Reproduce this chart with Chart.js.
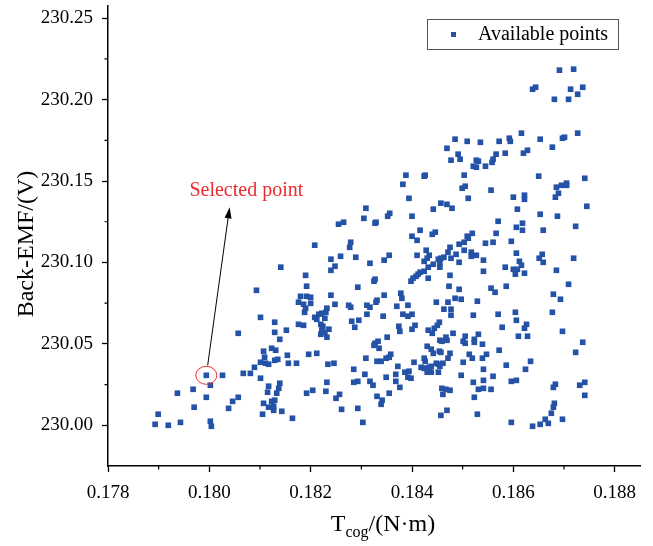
<!DOCTYPE html>
<html>
<head>
<meta charset="utf-8">
<title>Back-EMF vs cogging torque</title>
<script src="https://cdn.jsdelivr.net/npm/chart.js@4.4.1/dist/chart.umd.min.js"></script>
<style>
  html, body { margin: 0; padding: 0; background: #fff; }
</style>
</head>
<body>
<canvas id="chart" width="653" height="546"></canvas>
<script>
// Cogging torque T_cog (N·m) of each available design point
const torque = [
    // upper middle
    0.18485, 0.18469, 0.18491, 0.18477, 0.18495, 0.18388, 0.18426, 0.18424, 0.18382, 0.18394,
    // upper right
    0.18691, 0.18719, 0.18638, 0.18644, 0.18713, 0.18737, 0.18727, 0.18681, 0.18709, 0.18616,
    0.18727, 0.18509, 0.18535, 0.18572, 0.18592, 0.18594, 0.18653, 0.18697, 0.18701, 0.18677,
    0.18628, 0.18620, 0.18566, 0.18584, 0.18527, 0.18531, 0.18560, 0.18558, 0.18521, 0.18527,
    0.18545, 0.18503, 0.18650, 0.18741, 0.18505, 0.18499, 0.18556, 0.18695, 0.18705, 0.18705,
    0.18685, 0.18689, 0.18600, 0.18622, 0.18622, 0.18511, 0.18683,
    // centre band
    0.18309, 0.18305, 0.18255, 0.18265, 0.18327, 0.18329, 0.18352, 0.18356, 0.18400, 0.18442,
    0.18457, 0.18469, 0.18479, 0.18416, 0.18440, 0.18446, 0.18400, 0.18410, 0.18279, 0.18277,
    0.18259, 0.18240, 0.18248, 0.18240, 0.18289, 0.18317, 0.18345, 0.18355, 0.18410, 0.18428,
    0.18434, 0.18430, 0.18424, 0.18442, 0.18432, 0.18424, 0.18416, 0.18412, 0.18408, 0.18402,
    0.18398, 0.18432, 0.18452, 0.18457, 0.18463, 0.18471, 0.18475, 0.18477, 0.18487, 0.18493,
    0.18493, 0.18455, 0.18455, 0.18475, 0.18473, 0.18493, 0.18325, 0.18327, 0.18293, 0.18240,
    0.18345, 0.18378, 0.18380, 0.18248, 0.18275, 0.18279, 0.18311, 0.18317, 0.18329, 0.18331,
    0.18370, 0.18392, 0.18448, 0.18471, 0.18463, 0.18477, 0.18485,
    // centre right
    0.18745, 0.18608, 0.18653, 0.18687, 0.18570, 0.18618, 0.18606, 0.18618, 0.18659, 0.18723,
    0.18519, 0.18509, 0.18511, 0.18503, 0.18566, 0.18545, 0.18560, 0.18596, 0.18503, 0.18517,
    0.18517, 0.18527, 0.18541, 0.18606, 0.18612, 0.18616, 0.18600, 0.18608, 0.18604, 0.18622,
    0.18584, 0.18657, 0.18651, 0.18659, 0.18719, 0.18685, 0.18541, 0.18709, 0.18556, 0.18564,
    0.18586, 0.18679, 0.18693, 0.18497, 0.18529,
    // left side
    0.18208, 0.18141, 0.18190, 0.18192, 0.18093, 0.18180, 0.18192, 0.18200, 0.18176, 0.18186,
    0.18200, 0.18190, 0.18232, 0.18057, 0.17994, 0.18026, 0.18002, 0.17968, 0.17937, 0.17994,
    0.17970, 0.17899, 0.17893, 0.17919, 0.17943, 0.18002, 0.18004, 0.18038, 0.18046, 0.18057,
    0.18067, 0.18081, 0.18089,
    // lower left
    0.18101, 0.18129, 0.18129, 0.18139, 0.18152, 0.18176, 0.18186, 0.18188, 0.18208, 0.18216,
    0.18222, 0.18230, 0.18212, 0.18228, 0.18220, 0.18224, 0.18222, 0.18220, 0.18228, 0.18236,
    0.18232, 0.18311, 0.18281, 0.18295, 0.18287, 0.18107, 0.18109, 0.18123, 0.18131, 0.18101,
    0.18111, 0.18117, 0.18129, 0.18135, 0.18154, 0.18156, 0.18172, 0.18196, 0.18212, 0.18234,
    0.18246, 0.18309, 0.18285, 0.18307, 0.18285, 0.18293, 0.18317, 0.18232, 0.18101, 0.18117,
    0.18139, 0.18137, 0.18115, 0.18133, 0.18129, 0.18123, 0.18107, 0.18117, 0.18127, 0.18127,
    0.18143, 0.18105, 0.18164, 0.18192, 0.18204, 0.18230, 0.18257, 0.18250, 0.18261, 0.18293,
    0.18303,
    // lower middle
    0.18343, 0.18382, 0.18392, 0.18400, 0.18477, 0.18521, 0.18374, 0.18376, 0.18400, 0.18406,
    0.18432, 0.18444, 0.18440, 0.18450, 0.18454, 0.18455, 0.18459, 0.18467, 0.18469, 0.18481,
    0.18351, 0.18327, 0.18333, 0.18325, 0.18335, 0.18505, 0.18501, 0.18505, 0.18523, 0.18523,
    0.18531, 0.18430, 0.18438, 0.18442, 0.18454, 0.18457, 0.18475, 0.18358, 0.18355, 0.18331,
    0.18339, 0.18349, 0.18424, 0.18426, 0.18404, 0.18471, 0.18448, 0.18452, 0.18461, 0.18455,
    0.18501, 0.18513, 0.18519, 0.18418, 0.18424, 0.18430, 0.18434, 0.18438, 0.18430, 0.18438,
    0.18452, 0.18372, 0.18386, 0.18394, 0.18368, 0.18392, 0.18398, 0.18349, 0.18368, 0.18376,
    0.18323, 0.18497, 0.18521, 0.18531, 0.18459, 0.18467, 0.18475, 0.18461, 0.18331, 0.18341,
    0.18339, 0.18355, 0.18523, 0.18469, 0.18457, 0.18529,
    // lower right
    0.18570, 0.18604, 0.18677, 0.18606, 0.18626, 0.18622, 0.18578, 0.18697, 0.18610, 0.18628,
    0.18737, 0.18539, 0.18547, 0.18539, 0.18572, 0.18723, 0.18634, 0.18586, 0.18541, 0.18624,
    0.18560, 0.18541, 0.18596, 0.18606, 0.18541, 0.18556, 0.18683, 0.18679, 0.18731, 0.18741,
    0.18741, 0.18681, 0.18679, 0.18675, 0.18697, 0.18663, 0.18653, 0.18669, 0.18638, 0.18596
];

// Back-EMF (V) of the same points, same order
const backEmf = [
    // upper middle
    230.1757, 230.1701, 230.1665, 230.1628, 230.1634, 230.1536, 230.1536, 230.1530, 230.1480, 230.1394,
    // upper right
    230.2181, 230.2187, 230.2064, 230.2076, 230.2064, 230.2076, 230.2033, 230.2002, 230.2002, 230.1794,
    230.1794, 230.1744, 230.1738, 230.1744, 230.1763, 230.1744, 230.1757, 230.1763, 230.1769, 230.1708,
    230.1689, 230.1671, 230.1665, 230.1671, 230.1628, 230.1622, 230.1634, 230.1615, 230.1591, 230.1585,
    230.1591, 230.1536, 230.1530, 230.1517, 230.1468, 230.1456, 230.1444, 230.1474, 230.1487, 230.1474,
    230.1462, 230.1425, 230.1401, 230.1413, 230.1388, 230.1394, 230.1401,
    // centre band
    230.1333, 230.1271, 230.1235, 230.1247, 230.1241, 230.1247, 230.1284, 230.1302, 230.1284, 230.1327,
    230.1364, 230.1357, 230.1333, 230.1198, 230.1173, 230.1186, 230.1161, 230.1136, 230.1124, 230.1093,
    230.1038, 230.1020, 230.0977, 230.0952, 230.1032, 230.0995, 230.1014, 230.1044, 230.1044, 230.1075,
    230.1044, 230.1026, 230.1007, 230.0989, 230.0971, 230.0946, 230.0940, 230.0928, 230.0915, 230.0903,
    230.0885, 230.0903, 230.1020, 230.1026, 230.1032, 230.1063, 230.1093, 230.1026, 230.1050, 230.1112,
    230.1001, 230.0995, 230.0971, 230.0921, 230.0854, 230.0835, 230.0885, 230.0897, 230.0848, 230.0799,
    230.0799, 230.0811, 230.0780, 230.0743, 230.0737, 230.0725, 230.0737, 230.0725, 230.0756, 230.0768,
    230.0731, 230.0737, 230.0756, 230.0756, 230.0713, 230.0713, 230.0780,
    // centre right
    230.1345, 230.1327, 230.1296, 230.1284, 230.1253, 230.1241, 230.1216, 230.1198, 230.1198, 230.1222,
    230.1179, 230.1161, 230.1149, 230.1124, 230.1179, 230.1118, 230.1124, 230.1130, 230.1075, 230.1063,
    230.1038, 230.1044, 230.1014, 230.1057, 230.1007, 230.0983, 230.0958, 230.0958, 230.0928, 230.0934,
    230.0971, 230.1050, 230.1026, 230.1001, 230.1026, 230.0952, 230.0946, 230.0866, 230.0842, 230.0817,
    230.0854, 230.0805, 230.0774, 230.0774, 230.0762,
    // left side
    230.1106, 230.0971, 230.0921, 230.0854, 230.0829, 230.0792, 230.0792, 230.0786, 230.0756, 230.0743,
    230.0749, 230.0719, 230.0719, 230.0565, 230.0307, 230.0307, 230.0246, 230.0221, 230.0197, 230.0172,
    230.0111, 230.0068, 230.0006, 230.0000, 230.0018, 230.0025, 229.9994, 230.0104, 230.0147, 230.0172,
    230.0319, 230.0319, 230.0356,
    // lower left
    230.0663, 230.0633, 230.0571, 230.0528, 230.0584, 230.0620, 230.0614, 230.0694, 230.0663, 230.0682,
    230.0688, 230.0694, 230.0651, 230.0657, 230.0620, 230.0608, 230.0584, 230.0559, 230.0571, 230.0590,
    230.0541, 230.0682, 230.0639, 230.0645, 230.0602, 230.0455, 230.0418, 230.0473, 230.0461, 230.0387,
    230.0381, 230.0375, 230.0399, 230.0405, 230.0430, 230.0381, 230.0381, 230.0436, 230.0442, 230.0375,
    230.0381, 230.0412, 230.0344, 230.0313, 230.0264, 230.0270, 230.0270, 230.0264, 230.0289, 230.0240,
    230.0258, 230.0227, 230.0203, 230.0197, 230.0154, 230.0147, 230.0135, 230.0111, 230.0117, 230.0092,
    230.0086, 230.0068, 230.0043, 230.0197, 230.0215, 230.0209, 230.0190, 230.0166, 230.0098, 230.0104,
    230.0018,
    // lower middle
    230.0670, 230.0682, 230.0670, 230.0682, 230.0676, 230.0676, 230.0608, 230.0577, 230.0590, 230.0614,
    230.0584, 230.0596, 230.0565, 230.0614, 230.0633, 230.0522, 230.0516, 230.0541, 230.0522, 230.0565,
    230.0541, 230.0504, 230.0516, 230.0491, 230.0473, 230.0547, 230.0516, 230.0504, 230.0528, 230.0510,
    230.0559, 230.0485, 230.0467, 230.0442, 230.0455, 230.0448, 230.0442, 230.0436, 230.0418, 230.0393,
    230.0393, 230.0412, 230.0412, 230.0393, 230.0387, 230.0412, 230.0381, 230.0375, 230.0381, 230.0362,
    230.0387, 230.0436, 230.0412, 230.0356, 230.0350, 230.0350, 230.0356, 230.0362, 230.0326, 230.0326,
    230.0326, 230.0362, 230.0326, 230.0332, 230.0313, 230.0295, 230.0289, 230.0295, 230.0270, 230.0233,
    230.0246, 230.0307, 230.0264, 230.0221, 230.0227, 230.0221, 230.0215, 230.0190, 230.0178, 230.0154,
    230.0129, 230.0197, 230.0172, 230.0092, 230.0061, 230.0068,
    // lower right
    230.0682, 230.0694, 230.0694, 230.0645, 230.0620, 230.0596, 230.0602, 230.0577, 230.0547, 230.0547,
    230.0510, 230.0498, 230.0436, 230.0412, 230.0461, 230.0448, 230.0393, 230.0369, 230.0344, 230.0344,
    230.0301, 230.0276, 230.0270, 230.0276, 230.0227, 230.0221, 230.0252, 230.0233, 230.0246, 230.0264,
    230.0184, 230.0135, 230.0111, 230.0074, 230.0037, 230.0037, 230.0006, 230.0012, 229.9994, 230.0018
];

// Tick labels on both axes
const xTickValues = [0.178, 0.180, 0.182, 0.184, 0.186, 0.188];
const yTickValues = [230.00, 230.05, 230.10, 230.15, 230.20, 230.25];

// The highlighted design and where its label sits (data units)
const selectedPoint = [0.17994, 230.0307];
const arrowTip = [0.18040, 230.1339];
const labelAnchor = [0.18073, 230.1407];

const serif = "'Liberation Serif', 'Times New Roman', serif";
const ink = '#000';
const pointBlue = '#2352a6';
const markRed = '#ec2a2f';

if (torque.length !== backEmf.length) {
    console.warn('torque/backEmf length mismatch', torque.length, backEmf.length);
}

// Minor ticks, axis titles, framed legend and the "Selected point" note
const extras = {
    id: 'extras',
    afterDraw(chart) {
        const { ctx, chartArea, scales: { x, y } } = chart;
        ctx.save();

        // minor ticks halfway between the labelled ones
        ctx.strokeStyle = ink;
        ctx.lineWidth = 1.2;
        ctx.beginPath();
        for (let i = 0; i < xTickValues.length - 1; i++) {
            const px = x.getPixelForValue((xTickValues[i] + xTickValues[i + 1]) / 2);
            ctx.moveTo(px, chartArea.bottom);
            ctx.lineTo(px, chartArea.bottom + 3.5);
        }
        for (let i = 0; i < yTickValues.length - 1; i++) {
            const py = y.getPixelForValue((yTickValues[i] + yTickValues[i + 1]) / 2);
            ctx.moveTo(chartArea.left, py);
            ctx.lineTo(chartArea.left - 3.5, py);
        }
        ctx.stroke();

        // y title
        ctx.fillStyle = ink;
        ctx.font = `24px ${serif}`;
        ctx.textAlign = 'center';
        ctx.textBaseline = 'alphabetic';
        ctx.save();
        ctx.translate(33, 244);
        ctx.rotate(-Math.PI / 2);
        ctx.fillText('Back-EMF/(V)', 0, 0);
        ctx.restore();

        // x title with subscript
        ctx.textAlign = 'left';
        const big = `24px ${serif}`, small = `16px ${serif}`;
        ctx.font = big;
        const wT = ctx.measureText('T').width;
        const wTail = ctx.measureText('/(N·m)').width;
        ctx.font = small;
        const wSub = ctx.measureText('cog').width;
        const cx = (chartArea.left + chartArea.right) / 2 + 9;
        let tx = cx - (wT + wSub + wTail) / 2;
        const base = 531;
        ctx.font = big;
        ctx.fillText('T', tx, base);
        tx += wT;
        ctx.font = small;
        ctx.fillText('cog', tx, base + 6);
        tx += wSub;
        ctx.font = big;
        ctx.fillText('/(N·m)', tx, base);

        // framed legend, top right
        const lx = chartArea.right - 213, ly = chartArea.top + 13;
        ctx.strokeStyle = '#555';
        ctx.lineWidth = 1;
        ctx.strokeRect(lx + 0.5, ly + 0.5, 191, 30);
        ctx.fillStyle = pointBlue;
        ctx.fillRect(lx + 24, ly + 13, 5, 5);
        ctx.fillStyle = ink;
        ctx.font = `20px ${serif}`;
        ctx.textBaseline = 'middle';
        ctx.fillText(chart.data.datasets[0].label, lx + 51, ly + 16);

        // selected point: red ring, arrow, label
        const sx = x.getPixelForValue(selectedPoint[0]);
        const sy = y.getPixelForValue(selectedPoint[1]);
        const rx = 10.5, ry = 9;
        ctx.strokeStyle = markRed;
        ctx.lineWidth = 1;
        ctx.beginPath();
        ctx.ellipse(sx, sy, rx, ry, 0, 0, Math.PI * 2);
        ctx.stroke();

        const ax = x.getPixelForValue(arrowTip[0]);
        const ay = y.getPixelForValue(arrowTip[1]);
        const dx = ax - sx, dy = ay - sy;
        const len = Math.hypot(dx, dy);
        const ux = dx / len, uy = dy / len;
        const t = 1 / Math.hypot(ux / rx, uy / ry) + 1;
        const headLen = 11, headHalf = 3.5;
        ctx.strokeStyle = ink;
        ctx.fillStyle = ink;
        ctx.beginPath();
        ctx.moveTo(sx + ux * t, sy + uy * t);
        ctx.lineTo(ax - ux * headLen, ay - uy * headLen);
        ctx.stroke();
        ctx.beginPath();
        ctx.moveTo(ax, ay);
        ctx.lineTo(ax - ux * headLen - uy * headHalf, ay - uy * headLen + ux * headHalf);
        ctx.lineTo(ax - ux * headLen + uy * headHalf, ay - uy * headLen - ux * headHalf);
        ctx.closePath();
        ctx.fill();

        ctx.fillStyle = markRed;
        ctx.font = `20px ${serif}`;
        ctx.textAlign = 'center';
        ctx.textBaseline = 'alphabetic';
        ctx.fillText('Selected point', x.getPixelForValue(labelAnchor[0]), y.getPixelForValue(labelAnchor[1]));

        ctx.restore();
    }
};

const ctx = document.getElementById('chart').getContext('2d');
const chart = new Chart(ctx, {
    type: 'scatter',
    data: {
        datasets: [{
            label: 'Available points',
            data: torque.map((t, i) => ({ x: t, y: backEmf[i] })),
            pointStyle: 'rect',
            pointRadius: 4,
            pointHoverRadius: 4,
            backgroundColor: pointBlue,
            borderWidth: 0
        }]
    },
    options: {
        responsive: false,
        animation: false,
        events: [],
        layout: { autoPadding: false, padding: { top: 6, right: 13, left: 0, bottom: 0 } },
        plugins: {
            legend: { display: false },
            tooltip: { enabled: false }
        },
        scales: {
            x: {
                type: 'linear',
                position: 'bottom',
                min: 0.178,
                max: 0.1885,
                afterBuildTicks: scale => { scale.ticks = xTickValues.map(v => ({ value: v })); },
                afterFit: scale => {
                    scale.height = 80;
                    scale.paddingLeft = 0;
                    scale.paddingRight = 0;
                },
                ticks: {
                    font: { family: serif, size: 19 },
                    color: ink,
                    padding: 10,
                    maxRotation: 0,
                    callback: v => v.toFixed(3)
                },
                grid: { drawOnChartArea: false, drawTicks: true, tickLength: 6, tickColor: ink, tickWidth: 1.3 },
                border: { display: true, color: ink, width: 1.5 }
            },
            y: {
                type: 'linear',
                position: 'left',
                min: 229.975,
                max: 230.2575,
                afterBuildTicks: scale => { scale.ticks = yTickValues.map(v => ({ value: v })); },
                afterFit: scale => {
                    scale.width = 108;
                    scale.paddingTop = 0;
                    scale.paddingBottom = 0;
                },
                ticks: {
                    font: { family: serif, size: 19 },
                    color: ink,
                    padding: 9,
                    callback: v => v.toFixed(2)
                },
                grid: { drawOnChartArea: false, drawTicks: true, tickLength: 6, tickColor: ink, tickWidth: 1.3 },
                border: { display: true, color: ink, width: 1.5 }
            }
        }
    },
    plugins: [extras]
});
</script>
</body>
</html>
